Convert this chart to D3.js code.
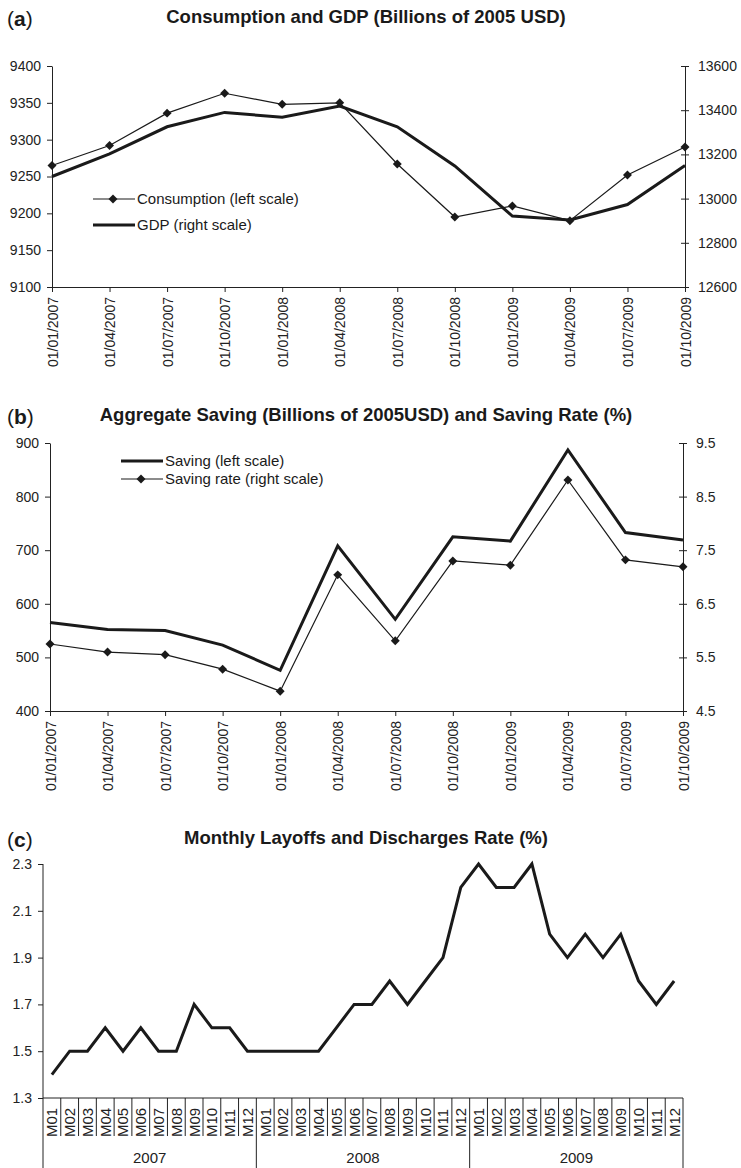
<!DOCTYPE html>
<html>
<head>
<meta charset="utf-8">
<script src="https://cdn.jsdelivr.net/npm/d3@7"></script>
<style>
  body { margin: 0; background: #fff; }
  svg { display: block; font-family: "Liberation Sans", Arial, sans-serif; }
  .axis path, .axis line { stroke: #222; }
  .axis text { fill: #222; font-size: 14px; }
</style>
</head>
<body>
<script>
const quarters = ["01/01/2007", "01/04/2007", "01/07/2007", "01/10/2007", "01/01/2008", "01/04/2008",
                  "01/07/2008", "01/10/2008", "01/01/2009", "01/04/2009", "01/07/2009", "01/10/2009"]
const consumption = [9265, 9292, 9336, 9363, 9348, 9350, 9267, 9195, 9210, 9190, 9252, 9290]
const gdp = [13100, 13202, 13325, 13390, 13368, 13419, 13325, 13148, 12921, 12903, 12973, 13150]
const saving = [565, 552, 550, 523, 476, 708, 571, 725, 717, 887, 733, 719]
const savingRate = [5.75, 5.6, 5.55, 5.28, 4.87, 7.04, 5.81, 7.3, 7.22, 8.81, 7.32, 7.19]

const years = ["2007", "2008", "2009"]
const months = ["M01", "M02", "M03", "M04", "M05", "M06", "M07", "M08", "M09", "M10", "M11", "M12"]
const layoffs = [1.4, 1.5, 1.5, 1.6, 1.5, 1.6, 1.5, 1.5, 1.7, 1.6, 1.6, 1.5,
                 1.5, 1.5, 1.5, 1.5, 1.6, 1.7, 1.7, 1.8, 1.7, 1.8, 1.9, 2.2,
                 2.3, 2.2, 2.2, 2.3, 2.0, 1.9, 2.0, 1.9, 2.0, 1.8, 1.7, 1.8]

const ticksA = {left: [9100, 9150, 9200, 9250, 9300, 9350, 9400], right: [12600, 12800, 13000, 13200, 13400, 13600]}
const ticksB = {left: [400, 500, 600, 700, 800, 900], right: [4.5, 5.5, 6.5, 7.5, 8.5, 9.5]}
const ticksC = [1.3, 1.5, 1.7, 1.9, 2.1, 2.3]

const width = 741, height = 1168
const svg = d3.select("body").append("svg").attr("width", width).attr("height", height)

const ink = "#1a1a1a"
const diamond = d3.symbol(d3.symbolSquare, 40)

function heading(y, letter, title) {
  const t = svg.append("text").attr("x", 7).attr("y", y + 3).attr("font-size", 21).attr("fill", ink)
  t.append("tspan").text("(")
  t.append("tspan").attr("font-weight", "bold").text(letter)
  t.append("tspan").text(")")
  svg.append("text").attr("x", 366).attr("y", y).attr("text-anchor", "middle")
      .attr("font-size", 18.5).attr("font-weight", "bold").attr("fill", ink).text(title)
}

function leftAxis(g, y, ticks, fmt) {
  g.attr("class", "axis").call(d3.axisLeft(y).tickValues(ticks).tickSize(5).tickPadding(6).tickSizeOuter(0).tickFormat(fmt))
}

function rightAxis(g, y, ticks, fmt) {
  g.attr("class", "axis").call(d3.axisRight(y).tickValues(ticks).tickSize(4).tickPadding(9).tickSizeOuter(0).tickFormat(fmt))
  g.selectAll(".tick line").attr("x1", -4)
}

function dateAxis(g, x) {
  g.attr("class", "axis").call(d3.axisBottom(x).tickSize(5).tickSizeOuter(0))
  g.selectAll(".tick text")
      .attr("text-anchor", "end")
      .attr("transform", "rotate(-90)")
      .attr("x", -10).attr("y", 0).attr("dy", "0.36em")
}

function series(vals, x, y, thick, marks) {
  const line = d3.line().x((d, i) => x(quarters[i])).y(d => y(d))
  svg.append("path").datum(vals).attr("fill", "none").attr("stroke", ink)
      .attr("stroke-width", thick ? 3 : 1.2).attr("stroke-linejoin", "miter").attr("d", line)
  if (marks) {
    svg.append("g").selectAll("path").data(vals).join("path")
        .attr("transform", (d, i) => `translate(${x(quarters[i])},${y(d)}) rotate(45)`)
        .attr("d", diamond).attr("fill", ink)
  }
}

function legendItem(x, y, label, thick, marks) {
  svg.append("line").attr("x1", x).attr("x2", x + 42).attr("y1", y).attr("y2", y)
      .attr("stroke", ink).attr("stroke-width", thick ? 3 : 1.2)
  if (marks) svg.append("path").attr("transform", `translate(${x + 20},${y}) rotate(45)`).attr("d", diamond).attr("fill", ink)
  svg.append("text").attr("x", x + 44).attr("y", y).attr("dy", "0.35em")
      .attr("font-size", 15).attr("fill", ink).text(label)
}

// (a) consumption and GDP
{
  const x = d3.scalePoint(quarters, [52, 685])
  const yl = d3.scaleLinear([9100, 9400], [287, 66])
  const yr = d3.scaleLinear([12600, 13600], [287, 66])
  heading(23, "a", "Consumption and GDP (Billions of 2005 USD)")
  svg.append("g").attr("transform", "translate(52,0)").call(leftAxis, yl, ticksA.left, d3.format("d"))
  svg.append("g").attr("transform", "translate(685,0)").call(rightAxis, yr, ticksA.right, d3.format("d"))
  svg.append("g").attr("transform", "translate(0,287)").call(dateAxis, x)
  series(gdp, x, yr, true, false)
  series(consumption, x, yl, false, true)
  legendItem(93, 199, "Consumption (left scale)", false, true)
  legendItem(93, 225, "GDP (right scale)", true, false)
}

// (b) saving and saving rate
{
  const x = d3.scalePoint(quarters, [50, 683])
  const yl = d3.scaleLinear([400, 900], [711, 443])
  const yr = d3.scaleLinear([4.5, 9.5], [711, 443])
  heading(421, "b", "Aggregate Saving (Billions of 2005USD) and Saving Rate (%)")
  svg.append("g").attr("transform", "translate(50,0)").call(leftAxis, yl, ticksB.left, d3.format("d"))
  svg.append("g").attr("transform", "translate(683,0)").call(rightAxis, yr, ticksB.right, d3.format(".1f"))
  svg.append("g").attr("transform", "translate(0,711)").call(dateAxis, x)
  series(saving, x, yl, true, false)
  series(savingRate, x, yr, false, true)
  legendItem(121, 461, "Saving (left scale)", true, false)
  legendItem(121, 479, "Saving rate (right scale)", false, true)
}

// (c) layoffs and discharges
{
  const cats = years.flatMap(yr => months.map(m => yr + "-" + m))
  const x = d3.scaleBand(cats, [43, 683])
  const y = d3.scaleLinear([1.3, 2.3], [1098, 864])
  const bw = x.bandwidth()
  heading(844, "c", "Monthly Layoffs and Discharges Rate (%)")
  svg.append("g").attr("transform", "translate(43,0)").call(leftAxis, y, ticksC, d3.format(".1f"))
    .call(g => g.select(".domain").remove())
  svg.append("line").attr("x1", 43).attr("x2", 43).attr("y1", 864).attr("y2", height).attr("stroke", "#222")

  const ax = svg.append("g").attr("stroke", "#222")
  ax.append("line").attr("x1", 43).attr("x2", 683).attr("y1", 1098).attr("y2", 1098)
  ax.selectAll(".sep").data(cats.slice(1)).join("line")
      .attr("x1", d => x(d)).attr("x2", d => x(d))
      .attr("y1", 1098).attr("y2", d => d.endsWith("M01") ? height : 1136)
  ax.append("line").attr("x1", 683).attr("x2", 683).attr("y1", 1098).attr("y2", height)

  svg.append("g").selectAll("text").data(cats).join("text")
      .attr("transform", d => `translate(${x(d) + bw / 2},1137) rotate(-90)`)
      .attr("dy", "0.36em").attr("font-size", 15).attr("fill", "#222")
      .text(d => d.slice(5))
  svg.append("g").selectAll("text").data(years).join("text")
      .attr("x", d => (x(d + "-M01") + x(d + "-M12") + bw) / 2).attr("y", 1163)
      .attr("text-anchor", "middle").attr("font-size", 15).attr("fill", "#222").text(d => d)

  svg.append("path").datum(layoffs).attr("fill", "none").attr("stroke", ink).attr("stroke-width", 3)
      .attr("d", d3.line().x((d, i) => x(cats[i]) + bw / 2).y(d => y(d)))
}
</script>
</body>
</html>
